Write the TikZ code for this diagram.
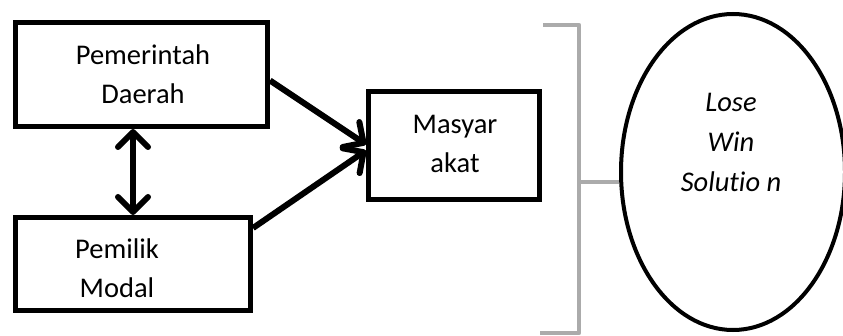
\documentclass[tikz,border=0pt]{standalone}
\usepackage{fontspec}
\setmainfont{Carlito}[Ligatures={NoCommon}]
\usetikzlibrary{arrows.meta,shapes.geometric}
\begin{document}
\begin{tikzpicture}[x=1pt,y=-1pt,
  box/.style={draw,line width=5pt,rectangle,inner sep=0pt},
  lbl/.style={align=center,font=\fontsize{28.5}{38.5}\selectfont},
  tip/.tip={Straight Barb[length=15pt,width=30pt,round]},
  conn/.style={line width=6pt,-tip},
  brk/.style={draw=black!33,line width=4.5pt}]
\useasboundingbox (0,0) rectangle (843,336);
\node[box,minimum width=252pt,minimum height=104pt] (pd) at (141.5,74.5) {};
\node[lbl] (pdt) at (143,74) {Pemerintah\\Daerah};
\node[box,minimum width=235pt,minimum height=93pt] (pm) at (133,264) {};
\node[lbl] (pmt) at (117,268) {Pemilik\\Modal};
\node[box,minimum width=171pt,minimum height=108pt] (ms) at (454,145.5) {};
\node[lbl] (mst) at (455,144) {Masyar\\akat};
\node[draw,line width=4pt,ellipse,minimum width=224pt,minimum height=316pt,inner sep=0pt] (el) at (733,172) {};
\node[lbl,font=\fontsize{28.5}{40}\selectfont\itshape] (elt) at (731,142) {Lose\\Win\\Solutio n};
% bracket
\coordinate (b1) at (543,25);
\coordinate (b2) at (579,25);
\coordinate (b3) at (579,333);
\coordinate (b4) at (540,333);
\coordinate (bm) at (579,182);
\draw[brk,line join=round] (b1) -- (b2) -- (b3) -- (b4);
\draw[brk] (bm) -- (bm -| el.west);
% connectors
\draw[line width=6pt,tip-tip] (pm.north) -- (pm.north |- pd.south);
\draw[conn] ([yshift=-6pt]pd.east) -- ([yshift=1pt]ms.west);
\draw[conn] ([yshift=36pt]pm.east) -- ([yshift=-5pt]ms.west);
\end{tikzpicture}
\end{document}
